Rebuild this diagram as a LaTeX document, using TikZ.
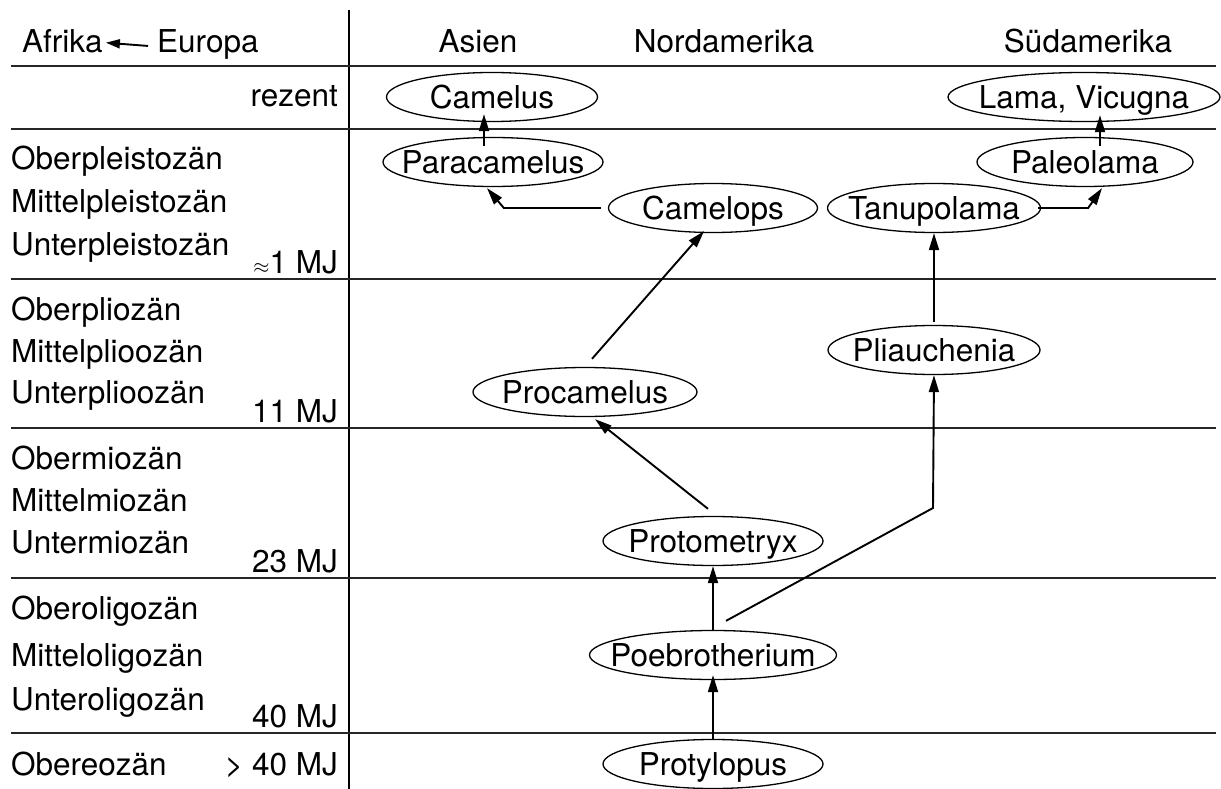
\documentclass[tikz,border=0pt]{standalone}
\usepackage{fontspec}
\setmainfont{TeX Gyre Heros}
\usetikzlibrary{arrows.meta,shapes.geometric,calc}
\begin{document}
\begin{tikzpicture}[x=1pt,y=-1pt,
  font=\fontsize{31.5}{36}\selectfont,
  ell/.style={draw,ellipse,line width=1.3pt,inner sep=0pt,minimum height=49pt},
  lbl/.style={anchor=base west,inner sep=0pt},
  rlbl/.style={anchor=base east,inner sep=0pt},
  hdr/.style={anchor=base,inner sep=0pt},
  rule/.style={line width=1.7pt,draw=black!85},
  conn/.style={line width=1.9pt,-{Triangle[length=17pt,width=10pt]}},
  every label/.style={inner sep=0pt,text height=22.6pt,text depth=0pt}
]
\useasboundingbox (0,0) rectangle (1221,789);

% grid
\draw[line width=1.5pt] (349,10) -- (349,789);
\foreach \yy in {66,129,279,428,578,733}
  \draw[rule] (11,\yy) -- (1216,\yy);

% header
\node[lbl] (afrika) at (22,53) {Afrika};
\node[lbl] (europa) at (157,53) {Europa};
\draw[line width=1.9pt,-{Triangle[length=14pt,width=9pt]}] ($(europa.west)+(-9,1)$) -- ($(afrika.east)+(3,1)$);
\node[hdr] (asien) at (478,53) {Asien};
\node[hdr] (nordam) at (724,53) {Nordamerika};
\node[hdr] (suedam) at (1088,53) {Südamerika};

% time labels
\node[rlbl] (rezent) at (338,107) {rezent};
\node[lbl] (opleist) at (11,170) {Oberpleistozän};
\node[lbl] (mpleist) at (11,212) {Mittelpleistozän};
\node[lbl] (upleist) at (11,255) {Unterpleistozän};
\node[rlbl] (mj1) at (338,273) {{\fontsize{22}{22}\selectfont$\approx$}1 MJ};
\node[lbl] (oplio) at (11,320) {Oberpliozän};
\node[lbl] (mplio) at (11,362) {Mittelplioozän};
\node[lbl] (uplio) at (11,403) {Unterplioozän};
\node[rlbl] (mj11) at (338,422) {11 MJ};
\node[lbl] (omio) at (11,469) {Obermiozän};
\node[lbl] (mmio) at (11,511) {Mittelmiozän};
\node[lbl] (umio) at (11,553) {Untermiozän};
\node[rlbl] (mj23) at (338,572) {23 MJ};
\node[lbl] (ooligo) at (11,619) {Oberoligozän};
\node[lbl] (moligo) at (11,666) {Mitteloligozän};
\node[lbl] (uoligo) at (11,710) {Unteroligozän};
\node[rlbl] (mj40) at (338,727) {40 MJ};
\node[lbl] (oeoz) at (11,775) {Obereozän};
\node[rlbl] (mj40p) at (338,775) {> 40 MJ};

% taxa
\node[ell,minimum width=211pt,label={center:Camelus}] (camelus) at (492,97) {};
\node[ell,minimum width=272pt,label={center:Lama, Vicugna}] (lama) at (1084,97) {};
\node[ell,minimum width=220pt,label={center:Paracamelus}] (para) at (493,162) {};
\node[ell,minimum width=216pt,label={center:Paleolama}] (paleo) at (1085,162) {};
\node[ell,minimum width=209pt,label={center:Camelops}] (camelops) at (713,208) {};
\node[ell,minimum width=213pt,label={center:Tanupolama}] (tanu) at (934,208) {};
\node[ell,minimum width=212pt,label={center:Pliauchenia}] (pliau) at (934,350) {};
\node[ell,minimum width=224pt,label={center:Procamelus}] (procam) at (585,392) {};
\node[ell,minimum width=220pt,label={center:Protometryx}] (protom) at (713,541) {};
\node[ell,minimum width=247pt,label={center:Poebrotherium}] (poebro) at (713,655) {};
\node[ell,minimum width=220pt,label={center:Protylopus}] (protyl) at (713,764) {};

\coordinate (bend) at (933,508);

% connectors
\draw[conn] ($(para.north)+(-9,9)$) -- ($(camelus.south)+(-8,-8)$);
\draw[conn] ($(camelops.west)+(-7,0)$) -- ++(-97,0) -- ($(para.south)+(-6,1)$);
\draw[conn] ($(procam.north)+(7,-8)$) -- ($(camelops.south)+(-9,-2)$);
\draw[conn] ($(protom.north)+(-5,-7)$) -- ($(procam.south)+(10,2)$);
\draw[conn] (poebro.north) -- (protom.south);
\draw[conn] (protyl.north) -- ($(poebro.south)+(0,-5)$);
\draw[conn] ($(poebro.north)+(13,-9)$) -- (bend) -- (pliau.south);
\draw[conn] ($(pliau.north)+(0,-3)$) -- (tanu.south);
\draw[conn] ($(tanu.east)+(-3,0)$) -- ++(50,0) -- ($(paleo.south)+(17,1)$);
\draw[conn] ($(paleo.north)+(15,9)$) -- ($(lama.south)+(16,-7)$);
\end{tikzpicture}
\end{document}
